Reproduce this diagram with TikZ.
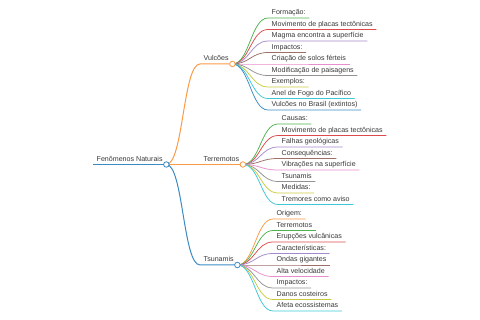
\documentclass[tikz,border=0pt]{standalone}
\usepackage{fontspec}
\setmainfont{Liberation Sans}

\definecolor{cblue}{HTML}{3A8AC4}
\definecolor{corange}{HTML}{FB9A45}
\definecolor{cgreen}{HTML}{4DB34D}
\definecolor{cred}{HTML}{DD4A4B}
\definecolor{cpurple}{HTML}{A38BCB}
\definecolor{cbrown}{HTML}{9C7068}
\definecolor{cpink}{HTML}{E88ECD}
\definecolor{cgray}{HTML}{929292}
\definecolor{colive}{HTML}{C8C940}
\definecolor{ccyan}{HTML}{3CC8D6}

\tikzset{
  topic/.style={font=\fontsize{7.1}{8}\selectfont, text=black!78, inner xsep=3.5pt,
    inner ysep=1.5pt, text depth=1.5pt, anchor=south west},
  knob/.style={circle, draw, fill=white, line width=0.8pt, inner sep=0pt, minimum size=5.5pt},
  branchline/.style={line width=1pt},
  leafline/.style={line width=0.75pt},
}

\begin{document}
\begin{tikzpicture}[x=1pt, y=-1pt]
  \useasboundingbox (0,0) rectangle (480,320);

  \node[topic] (root) at (93,164.5) {Fenômenos Naturais};
  \draw[cblue, line width=1.4pt] (root.south west) -- (root.south east);

  \node[topic] (vul) at (200,64) {Vulcões};
  \node[topic] (ter) at (200,164.5) {Terremotos};
  \node[topic] (tsu) at (200,265) {Tsunamis};

  \draw[corange, branchline] (root.south east) .. controls +(17,0) and +(-17,0) .. (vul.south west) -- (vul.south east);
  \draw[corange, branchline] (root.south east) -- (ter.south west) -- (ter.south east);
  \draw[cblue, branchline] (root.south east) .. controls +(17,0) and +(-17,0) .. (tsu.south west) -- (tsu.south east);

  % Vulcoes
  \foreach \t/\c [count=\i] in {Formação:/cgreen, Movimento de placas tectônicas/cred,
      Magma encontra a superfície/cpurple, Impactos:/cbrown, Criação de solos férteis/cpink,
      Modificação de paisagens/cgray, Exemplos:/colive, Anel de Fogo do Pacífico/ccyan,
      Vulcões no Brasil (extintos)/cblue}
  {
    \node[topic] (vul\i) at (268,{18+11.5*(\i-1)}) {\t};
    \draw[\c, leafline] (vul.south east) .. controls +(17,0) and +(-17,0) .. (vul\i.south west) -- (vul\i.south east);
  }

  % Terremotos
  \foreach \t/\c [count=\i] in {Causas:/cgreen, Movimento de placas tectônicas/cred,
      Falhas geológicas/cpurple, Consequências:/cbrown, Vibrações na superfície/cpink,
      Tsunamis/cgray, Medidas:/colive, Tremores como aviso/ccyan}
  {
    \node[topic] (ter\i) at (278,{124+11.5*(\i-1)}) {\t};
    \draw[\c, leafline] (ter.south east) .. controls +(17,0) and +(-17,0) .. (ter\i.south west) -- (ter\i.south east);
  }

  % Tsunamis
  \foreach \t/\c [count=\i] in {Origem:/corange, Terremotos/cgreen, Erupções vulcânicas/cred,
      Características:/cpurple, Ondas gigantes/cbrown, Alta velocidade/cpink,
      Impactos:/cgray, Danos costeiros/colive, Afeta ecossistemas/ccyan}
  {
    \node[topic] (tsu\i) at (273,{219+11.5*(\i-1)}) {\t};
    \draw[\c, leafline] (tsu.south east) .. controls +(17,0) and +(-17,0) .. (tsu\i.south west) -- (tsu\i.south east);
  }

  \node[knob, draw=cblue] (rootk) at (root.south east) {};
  \node[knob, draw=corange] (vulk) at (vul.south east) {};
  \node[knob, draw=corange] (terk) at (ter.south east) {};
  \node[knob, draw=cblue] (tsuk) at (tsu.south east) {};
\end{tikzpicture}
\end{document}
